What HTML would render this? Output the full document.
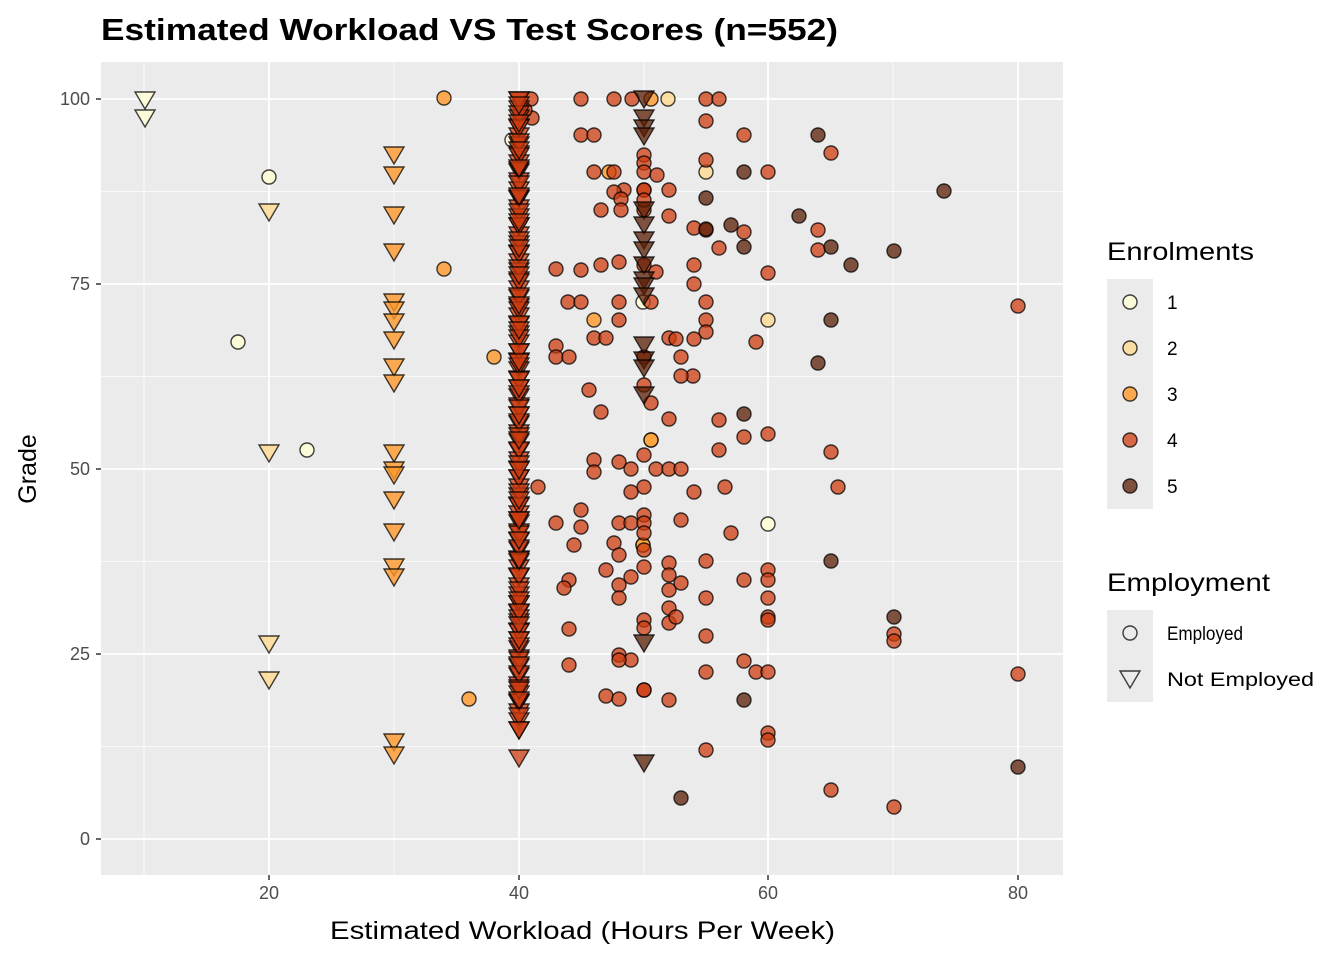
<!DOCTYPE html>
<html><head><meta charset="utf-8"><style>
body{margin:0;background:#fff;}
svg{display:block;font-family:"Liberation Sans",Arial,sans-serif;}
</style></head><body>
<svg id="s" width="1344" height="960" xmlns="http://www.w3.org/2000/svg">
<rect x="0" y="0" width="1344" height="960" fill="#fff"/>
<text x="101" y="40" font-size="31" font-weight="bold" fill="#000" textLength="737" lengthAdjust="spacingAndGlyphs">Estimated Workload VS Test Scores (n=552)</text>
<rect x="101" y="62" width="962" height="813" fill="#ebebeb"/>
<g stroke="#fff" stroke-width="0.8">
<line x1="144" y1="62" x2="144" y2="875"/><line x1="394" y1="62" x2="394" y2="875"/><line x1="644" y1="62" x2="644" y2="875"/><line x1="893" y1="62" x2="893" y2="875"/>
<line x1="101" y1="191.5" x2="1063" y2="191.5"/><line x1="101" y1="376.5" x2="1063" y2="376.5"/><line x1="101" y1="561.5" x2="1063" y2="561.5"/><line x1="101" y1="746.5" x2="1063" y2="746.5"/>
</g>
<g stroke="#fff" stroke-width="1.8">
<line x1="269" y1="62" x2="269" y2="875"/><line x1="519" y1="62" x2="519" y2="875"/><line x1="768" y1="62" x2="768" y2="875"/><line x1="1018" y1="62" x2="1018" y2="875"/>
<line x1="101" y1="99" x2="1063" y2="99"/><line x1="101" y1="284" x2="1063" y2="284"/><line x1="101" y1="469" x2="1063" y2="469"/><line x1="101" y1="654" x2="1063" y2="654"/><line x1="101" y1="839" x2="1063" y2="839"/>
</g>
<g id="pts"></g>
<g font-size="18" fill="#4d4d4d" text-anchor="end">
<text x="90" y="105">100</text><text x="90" y="290">75</text><text x="90" y="475">50</text><text x="90" y="660">25</text><text x="90" y="845">0</text>
</g>
<g font-size="18" fill="#4d4d4d" text-anchor="middle">
<text x="269" y="899">20</text><text x="519" y="899">40</text><text x="768" y="899">60</text><text x="1018" y="899">80</text>
</g>
<g stroke="#333" stroke-width="1.5">
<line x1="96" y1="99" x2="101" y2="99"/><line x1="96" y1="284" x2="101" y2="284"/><line x1="96" y1="469" x2="101" y2="469"/><line x1="96" y1="654" x2="101" y2="654"/><line x1="96" y1="839" x2="101" y2="839"/>
<line x1="269" y1="875" x2="269" y2="880"/><line x1="519" y1="875" x2="519" y2="880"/><line x1="768" y1="875" x2="768" y2="880"/><line x1="1018" y1="875" x2="1018" y2="880"/>
</g>
<text x="330" y="939" font-size="25" fill="#000" textLength="505" lengthAdjust="spacingAndGlyphs">Estimated Workload (Hours Per Week)</text>
<text transform="translate(36,469) rotate(-90)" font-size="25" text-anchor="middle" fill="#000">Grade</text>
<text x="1107" y="260" font-size="25" fill="#000" textLength="147" lengthAdjust="spacingAndGlyphs">Enrolments</text>
<rect x="1107" y="279" width="46" height="230" fill="#ebebeb"/>
<g font-size="19" fill="#000">
<text x="1167" y="309">1</text><text x="1167" y="355">2</text><text x="1167" y="401">3</text><text x="1167" y="447">4</text><text x="1167" y="493">5</text>
</g>
<text x="1107" y="591" font-size="25" fill="#000" textLength="163" lengthAdjust="spacingAndGlyphs">Employment</text>
<rect x="1107" y="610" width="46" height="92" fill="#ebebeb"/>
<g font-size="19" fill="#000">
<text x="1167" y="640" textLength="76" lengthAdjust="spacingAndGlyphs">Employed</text><text x="1167" y="686" textLength="147" lengthAdjust="spacingAndGlyphs">Not Employed</text>
</g>
<g id="leg"></g>
</svg>
<script>
var C={1:"#ffffd4",2:"#fed98e",3:"#fe9929",4:"#cc3c10",5:"#5a1e05"};
var O={1:0.8,2:0.8,3:0.8,4:0.75,5:0.75};
var g=document.getElementById("pts"),h="";
function circ(x,y,l){return '<circle cx="'+x+'" cy="'+y+'" r="7" fill="'+C[l]+'" fill-opacity="'+O[l]+'" stroke="#000" stroke-opacity="0.75" stroke-width="1.4"/>';}
function tri(x,y,l){return '<polygon points="'+(x-10)+','+(y-8)+' '+(x+10)+','+(y-8)+' '+x+','+(y+9)+'" fill="'+C[l]+'" fill-opacity="'+O[l]+'" stroke="#000" stroke-opacity="0.75" stroke-width="1.4"/>';}
var c1=[[269,177],[238,342],[307,450],[768,524],[643,302],[512,140]];
var c2=[[668,99],[706,172],[768,320],[643,545],[651,440]];
var c3=[[444,98],[444,269],[494,357],[469,699],[609,172],[594,320],[651,99],[643,545],[518,140],[651,440]];
var c4=[[581,99],[614,99],[632,99],[706,99],[719,99],[532,118],[581,135],[594,135],[706,121],[744,135],[831,153],[644,155],[644,163],[706,160],[644,172],[614,172],[768,172],[594,172],[657,175],[669,190],[624,190],[644,190],[614,192],[621,199],[601,210],[621,210],[644,210],[669,216],[694,228],[706,230],[719,248],[744,232],[768,273],[818,230],[818,250],[556,269],[581,270],[601,265],[619,262],[644,265],[656,272],[694,265],[694,284],[706,302],[651,302],[706,320],[706,332],[568,302],[581,302],[619,302],[619,320],[594,338],[606,338],[669,338],[694,339],[676,339],[756,342],[556,346],[556,357],[569,357],[644,357],[681,357],[693,376],[681,376],[589,390],[644,385],[669,419],[719,420],[768,434],[744,437],[719,450],[831,452],[838,487],[651,403],[601,412],[594,460],[594,472],[619,462],[644,455],[631,469],[656,469],[669,469],[681,469],[538,487],[644,487],[631,492],[694,492],[725,487],[581,510],[556,523],[619,523],[631,523],[644,515],[644,523],[681,520],[581,527],[574,545],[731,533],[614,543],[644,533],[644,550],[619,555],[669,563],[706,561],[644,567],[606,570],[669,575],[569,580],[564,588],[619,585],[631,577],[744,580],[768,570],[768,580],[619,598],[669,590],[681,583],[669,608],[706,598],[768,598],[644,620],[569,629],[644,628],[669,623],[676,617],[768,617],[768,620],[706,636],[619,655],[631,660],[619,660],[569,665],[706,672],[744,661],[756,672],[768,672],[606,696],[619,699],[669,700],[706,750],[768,733],[768,740],[831,790],[894,807],[894,634],[894,641],[1018,674],[1018,306],[531,99],[525,110],[644,190],[644,200],[644,690],[644,690]];
var c5=[[818,135],[744,172],[706,198],[731,225],[744,247],[706,229],[799,216],[944,191],[894,251],[851,265],[831,320],[818,363],[744,414],[831,561],[744,700],[681,798],[894,617],[1018,767],[831,247]];
c1.forEach(function(p){h+=circ(p[0],p[1],1);});
c2.forEach(function(p){h+=circ(p[0],p[1],2);});
c3.forEach(function(p){h+=circ(p[0],p[1],3);});
c4.forEach(function(p){h+=circ(p[0],p[1],4);});
c5.forEach(function(p){h+=circ(p[0],p[1],5);});
[[145,100],[145,118]].forEach(function(p){h+=tri(p[0],p[1],1);});
[[269,212],[269,453],[269,644],[269,680]].forEach(function(p){h+=tri(p[0],p[1],2);});
[155,175,215,252,302,310,322,340,367,383,453,470,475,500,532,567,577,742,755].forEach(function(y){h+=tri(394,y,3);});
[99,118,128,136,210,225,240,250,265,280,286,296,345,360,368,395,643,763].forEach(function(y){h+=tri(644,y,5);});
for(var y=100;y<=730;y+=9){h+=tri(519,y,4);}
for(var y=100;y<=730;y+=14){h+=tri(519,y,4);}
[105,123,150,168,196,222,248,275,305,330,362,388,415,440,470,500,520,540,560,600,612,625,640,665,690,700,758].forEach(function(y){h+=tri(519,y,4);});
g.innerHTML=h;
var L="";
[1,2,3,4,5].forEach(function(l,i){L+=circ(1130,302+46*i,l);});
L+='<circle cx="1130" cy="633" r="7" fill="none" stroke="#000" stroke-opacity="0.75" stroke-width="1.4"/>';
L+='<polygon points="1120,671 1140,671 1130,688" fill="none" stroke="#000" stroke-opacity="0.75" stroke-width="1.4"/>';
document.getElementById("leg").innerHTML=L;
</script>
</body></html>
